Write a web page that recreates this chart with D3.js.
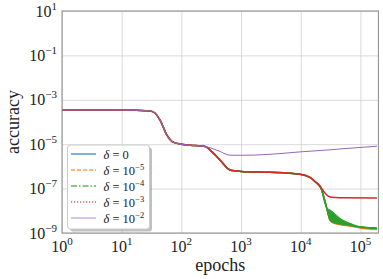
<!DOCTYPE html>
<html>
<head>
  <meta charset="utf-8">
  <script src="https://d3js.org/d3.v7.min.js"></script>
  <style>
    body { margin: 0; background: white; }
    text { font-family: "Liberation Serif", "DejaVu Serif", serif; fill: #222; }
  </style>
</head>
<body>
  <div id="chart"></div>
  <script>
    // shared early part of every run (epoch, accuracy)
    var commonEpochs = [1, 10, 30, 36, 44, 57, 70, 100, 170, 250];
    var commonAcc = [3.48e-4, 3.45e-4, 3.16e-4, 2.54e-4, 1.23e-4, 2.6e-5, 1.32e-5, 9.9e-6, 8.7e-6, 7.8e-6];

    // middle part for delta <= 1e-3
    var midEpochs = [326, 443, 652, 844, 1000, 3050, 9700, 14260, 17300];
    var midAcc = [4.5e-6, 1.95e-6, 6.9e-7, 6.2e-7, 5.9e-7, 5.4e-7, 4.4e-7, 3.2e-7, 2.1e-7];

    // tails
    var lowEpochs = [22400, 27200, 30840, 34600, 45400, 66700, 98100, 188900];
    var blueAcc = [8.7e-8, 1.35e-8, 3.9e-9, 3.0e-9, 2.5e-9, 2.15e-9, 1.8e-9, 1.55e-9];
    var orangeAcc = [8.7e-8, 1.35e-8, 3.8e-9, 2.9e-9, 2.4e-9, 2.05e-9, 1.7e-9, 1.45e-9];
    var greenAcc = [8.7e-8, 1.35e-8, 4.1e-9, 3.1e-9, 2.6e-9, 2.2e-9, 1.85e-9, 1.6e-9];
    var greenUpper = [8.7e-8, 1.35e-8, 1.1e-8, 8.9e-9, 4.6e-9, 2.75e-9, 1.95e-9, 1.7e-9];

    var redEpochs = [21000, 25400, 30840, 45400, 188900];
    var redAcc = [1.32e-7, 6.3e-8, 4.2e-8, 3.9e-8, 3.8e-8];

    var purpleEpochs = [326, 443, 652, 1000, 3050, 9700, 30840, 66700, 188900];
    var purpleAcc = [6.5e-6, 4.7e-6, 3.2e-6, 3.16e-6, 3.5e-6, 4.5e-6, 5.6e-6, 6.6e-6, 8.1e-6];

    var xTickExp = [0, 1, 2, 3, 4, 5];
    var yTickExp = [1, -1, -3, -5, -7, -9];

    var legendLabels = [["0", null], ["10", "\u22125"], ["10", "\u22124"], ["10", "\u22123"], ["10", "\u22122"]];
    var colors = ["#1f77b4", "#ff7f0e", "#2ca02c", "#d62728", "#9467bd"];
    var dashes = [null, "4,2", "6,2,1.5,2", "1.2,1.8", null];
    var widths = [1.5, 1.5, 1.5, 1.5, 1];

    function zip(e, a) {
      return e.map(function (d, i) { return [d, a[i]]; });
    }

    var base = zip(commonEpochs, commonAcc);
    var mid = base.concat(zip(midEpochs, midAcc));
    var series = [
      mid.concat(zip(lowEpochs, blueAcc)),
      mid.concat(zip(lowEpochs, orangeAcc)),
      mid.concat(zip(lowEpochs, greenAcc)),
      mid.concat(zip(redEpochs, redAcc)),
      base.concat(zip(purpleEpochs, purpleAcc))
    ];
    var band = lowEpochs.map(function (d, i) { return [d, greenAcc[i], greenUpper[i]]; });

    var W = 383, H = 279;
    var margin = { top: 11, right: 4.6, bottom: 46, left: 62 };
    var w = W - margin.left - margin.right, h = H - margin.top - margin.bottom;

    var svg = d3.select("#chart").append("svg").attr("width", W).attr("height", H);
    var g = svg.append("g").attr("transform", "translate(" + margin.left + "," + margin.top + ")");

    var x = d3.scaleLog().domain([1, 2e5]).range([0, w]);
    var y = d3.scaleLog().domain([1e-9, 1e1]).range([h, 0]);

    // grid
    g.append("g").attr("transform", "translate(0," + h + ")")
      .call(d3.axisBottom(x).tickValues(xTickExp.map(function (e) { return Math.pow(10, e); })).tickSize(-h).tickFormat(""))
      .call(function (s) { s.select(".domain").remove(); s.selectAll("line").attr("stroke", "#d0d0d0").attr("stroke-width", 0.8); });
    g.append("g")
      .call(d3.axisLeft(y).tickValues(yTickExp.map(function (e) { return Math.pow(10, e); })).tickSize(-w).tickFormat(""))
      .call(function (s) { s.select(".domain").remove(); s.selectAll("line").attr("stroke", "#d0d0d0").attr("stroke-width", 0.8); });

    var clip = g.append("clipPath").attr("id", "clip").append("rect").attr("width", w).attr("height", h);
    var plot = g.append("g").attr("clip-path", "url(#clip)");

    var line = d3.line().x(function (d) { return x(d[0]); }).y(function (d) { return y(d[1]); }).curve(d3.curveMonotoneX);

    series.forEach(function (s, i) {
      plot.append("path").datum(s)
        .attr("d", line)
        .attr("fill", "none")
        .attr("stroke", colors[i])
        .attr("stroke-width", widths[i])
        .attr("stroke-linejoin", "round");
      if (i === 2) {
        plot.append("path").datum(band)
          .attr("d", d3.area().x(function (d) { return x(d[0]); })
            .y0(function (d) { return y(d[1]); }).y1(function (d) { return y(d[2]); }).curve(d3.curveMonotoneX))
          .attr("fill", colors[2]).attr("stroke", colors[2]).attr("stroke-width", 1);
      }
    });

    // spines
    g.append("rect").attr("width", w).attr("height", h).attr("fill", "none").attr("stroke", "#8a8a8a").attr("stroke-width", 1);

    // tick labels
    xTickExp.forEach(function (e) {
      var t = g.append("text").attr("x", x(Math.pow(10, e))).attr("y", h + 18.5)
        .attr("text-anchor", "middle").style("font-size", "16px");
      t.append("tspan").text("10");
      t.append("tspan").attr("dy", -7).style("font-size", "11px").text(e);
    });
    yTickExp.forEach(function (e) {
      var t = g.append("text").attr("x", -5).attr("y", y(Math.pow(10, e)) + 5.5)
        .attr("text-anchor", "end").style("font-size", "16px");
      t.append("tspan").text("10");
      t.append("tspan").attr("dy", -7).style("font-size", "11px").text(e < 0 ? "\u2212" + (-e) : e);
    });

    svg.append("text").attr("x", margin.left + w / 2).attr("y", 271)
      .attr("text-anchor", "middle").style("font-size", "18px").text("epochs");
    svg.append("text").attr("transform", "translate(19," + (margin.top + h / 2) + ") rotate(-90)")
      .attr("text-anchor", "middle").style("font-size", "18px").text("accuracy");

    // legend
    var lg = svg.append("g").attr("transform", "translate(67.5,145)");
    lg.append("rect").attr("x", 2.5).attr("y", 2.5).attr("width", 82).attr("height", 84).attr("rx", 3)
      .attr("fill", "#8c8c8c").attr("opacity", 0.55);
    lg.append("rect").attr("width", 82).attr("height", 84).attr("rx", 3)
      .attr("fill", "white").attr("stroke", "#cccccc").attr("stroke-width", 1);
    legendLabels.forEach(function (lab, i) {
      var yy = 9 + i * 16;
      lg.append("line").attr("x1", 3.5).attr("x2", 28.5).attr("y1", yy).attr("y2", yy)
        .attr("stroke", colors[i]).attr("stroke-width", widths[i]).attr("opacity", 0.75)
        .attr("stroke-dasharray", dashes[i]);
      var t = lg.append("text").attr("x", 36).attr("y", yy + 4.5).style("font-size", "12.5px");
      t.append("tspan").style("font-style", "italic").text("\u03b4");
      t.append("tspan").text(" = " + lab[0]);
      if (lab[1]) t.append("tspan").attr("dy", -5).style("font-size", "8.5px").text(lab[1]);
    });
  </script>
</body>
</html>
